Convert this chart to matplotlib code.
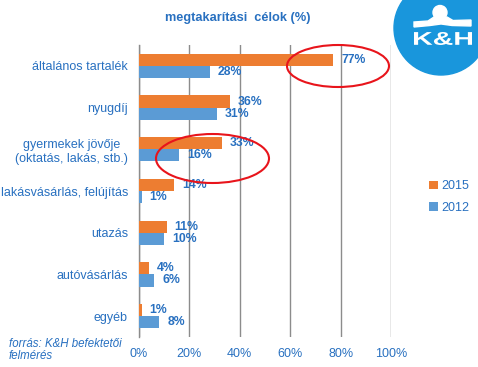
import matplotlib
matplotlib.use('Agg')
import matplotlib.pyplot as plt
import numpy as np
from matplotlib.patches import Ellipse, Circle, Polygon, PathPatch
from matplotlib.textpath import TextPath
from matplotlib.font_manager import FontProperties
from matplotlib.transforms import Affine2D

plt.rcParams['font.family'] = ['Liberation Sans', 'DejaVu Sans']

categories = ["általános tartalék", "nyugdíj", "gyermekek jövője\n(oktatás, lakás, stb.)",
              "lakásvásárlás, felújítás", "utazás", "autóvásárlás", "egyéb"]
values_2015 = [77, 36, 33, 14, 11, 4, 1]
values_2012 = [28, 31, 16, 1, 10, 6, 8]
series_names = ["2015", "2012"]
xticks = [0, 20, 40, 60, 80, 100]
xtick_labels = ["0%", "20%", "40%", "60%", "80%", "100%"]
title = "megtakarítási  célok (%)"
source = "forrás: K&H befektetői\nfelmérés"

ORANGE = '#ED7D31'
BLUE = '#5B9BD5'
TXT = '#2870C0'
GRID = '#8C8C8C'

W, H = 478, 367
fig = plt.figure(figsize=(W / 100, H / 100), dpi=100)
ax = fig.add_axes([139 / W, 30 / H, 252 / W, 292 / H])

y = np.arange(len(categories))
bh = 0.29
b15 = ax.barh(y - bh / 2, values_2015, height=bh, color=ORANGE, label=series_names[0], zorder=3)
b12 = ax.barh(y + bh / 2, values_2012, height=bh, color=BLUE, label=series_names[1], zorder=3)

for bars, vals in ((b15, values_2015), (b12, values_2012)):
    for rect, v in zip(bars, vals):
        ax.annotate(f"{v}%", (rect.get_width(), rect.get_y() + rect.get_height() / 2),
                    xytext=(8, 0), textcoords='offset pixels', ha='left', va='center',
                    fontsize=8.8, fontweight='bold', color=TXT, zorder=4)

ax.set_xlim(0, 100)
ax.set_ylim(len(categories) - 0.5, -0.5)
ax.set_xticks(xticks)
ax.set_xticklabels(xtick_labels)
ax.set_yticks(y)
ax.set_yticklabels(categories, multialignment='center')
ax.tick_params(axis='both', length=0, colors=TXT, labelsize=9)
ax.tick_params(axis='y', pad=8)
ax.tick_params(axis='x', pad=8)
for lbl in ax.get_yticklabels() + ax.get_xticklabels():
    lbl.set_color(TXT)
ax.grid(axis='x', color=GRID, linewidth=1, zorder=0)
for s in ['top', 'right', 'bottom']:
    ax.spines[s].set_visible(False)
ax.spines['left'].set_color(GRID)
ax.spines['left'].set_linewidth(1)

leg = ax.legend(handles=[b15, b12], loc='center left',
                bbox_to_anchor=(418 / W, 1 - 197 / H), bbox_transform=fig.transFigure,
                frameon=False, fontsize=9, labelcolor=TXT, handlelength=0.7,
                handleheight=0.7, handletextpad=0.3, labelspacing=0.75)

fig.text(238 / W, 1 - 18 / H, title, ha='center', va='center', fontsize=9.2,
         fontweight='bold', color=TXT)
fig.text(9 / W, 1 - 350 / H, source, ha='left', va='center', fontsize=8.3,
         fontstyle='italic', color=TXT, linespacing=1.0)

# overlay in pixel coordinates
ov = fig.add_axes([0, 0, 1, 1], facecolor='none')
ov.set_xlim(0, W)
ov.set_ylim(H, 0)
ov.axis('off')

ov.add_patch(Ellipse((338, 66), 102, 42, fill=False, edgecolor='#E8141B', linewidth=1.5))
ov.add_patch(Ellipse((212.5, 158.5), 113, 49, fill=False, edgecolor='#E8141B', linewidth=1.5))

# logo
ov.add_patch(Circle((441, 28), 47, color='#1996DC', zorder=1))
ov.add_patch(Circle((440, 12.5), 7, color='white', zorder=2))
ov.add_patch(Polygon([(414, 22), (428, 21), (434, 17), (447, 17), (453, 20.5), (471, 20),
                      (471, 26), (452, 25.5), (441, 24), (430, 25.5), (414, 27)],
                     closed=True, color='white', zorder=2))
tp = TextPath((0, 0), "K&H", size=1, prop=FontProperties(family='Liberation Sans', weight='bold'))
ext = tp.get_extents()
sx = 58 / ext.width
sy = 13 / ext.height
tr = Affine2D().translate(-ext.x0, -ext.y0).scale(sx, -sy).translate(414, 45)
ov.add_patch(PathPatch(tr.transform_path(tp), color='white', lw=0, zorder=3))

fig.savefig('out.png', dpi=100)
